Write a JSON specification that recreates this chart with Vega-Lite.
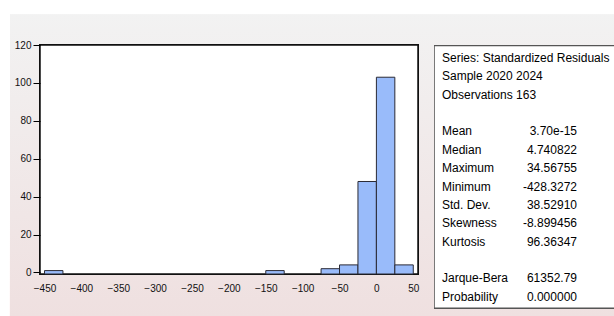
{
  "$schema": "https://vega.github.io/schema/vega-lite/v6.json",
  "background": "white",
  "padding": {"left": 9, "top": 14, "right": 0, "bottom": 0},
  "bounds": "flush",
  "spacing": 16,
  "config": {
    "view": {"stroke": null},
    "font": "Liberation Sans",
    "axis": {"labelOverlap": false, "labelFontSize": 10, "labelColor": "#111", "domain": false, "grid": false},
    "axisX": {"ticks": false, "labelPadding": 9, "labelFlush": false},
    "axisY": {"tickSize": 7, "tickColor": "#000", "labelPadding": 2, "labelBound": false}
  },
  "datasets": {
    "bins": [
      {"bin_start": -450, "bin_end": -425, "count": 1},
      {"bin_start": -150, "bin_end": -125, "count": 1},
      {"bin_start": -75, "bin_end": -50, "count": 2},
      {"bin_start": -50, "bin_end": -25, "count": 4},
      {"bin_start": -25, "bin_end": 0, "count": 48},
      {"bin_start": 0, "bin_end": 25, "count": 103},
      {"bin_start": 25, "bin_end": 50, "count": 4}
    ],
    "stats": [
      {"row": 0, "label": "Series: Standardized Residuals", "value": ""},
      {"row": 1, "label": "Sample 2020 2024", "value": ""},
      {"row": 2, "label": "Observations 163", "value": ""},
      {"row": 4, "label": "Mean", "value": "3.70e-15"},
      {"row": 5, "label": "Median", "value": "4.740822"},
      {"row": 6, "label": "Maximum", "value": "34.56755"},
      {"row": 7, "label": "Minimum", "value": "-428.3272"},
      {"row": 8, "label": "Std. Dev.", "value": "38.52910"},
      {"row": 9, "label": "Skewness", "value": "-8.899456"},
      {"row": 10, "label": "Kurtosis", "value": "96.36347"},
      {"row": 12, "label": "Jarque-Bera", "value": "61352.79"},
      {"row": 13, "label": "Probability", "value": "0.000000"}
    ]
  },
  "hconcat": [
    {
      "width": 378,
      "height": 229,
      "data": {"name": "bins"},
      "layer": [
        {
          "mark": {
            "type": "rect",
            "fill": {
              "gradient": "linear",
              "x1": 0, "y1": 0, "x2": 0, "y2": 1,
              "stops": [
                {"offset": 0, "color": "#f2f2f2"},
                {"offset": 1, "color": "#efe0e0"}
              ]
            },
            "strokeWidth": 0
          },
          "encoding": {
            "x": {"datum": -496.8, "type": "quantitative", "scale": {"domain": [-456.1, 56.4], "nice": false, "zero": false},
              "axis": {"values": [-450, -400, -350, -300, -250, -200, -150, -100, -50, 0, 50], "zindex": 2, "title": null, "labelOverlap": false}},
            "x2": {"datum": 323.5},
            "y": {"datum": 136.0, "type": "quantitative", "scale": {"domain": [-0.8, 120], "nice": false, "zero": false},
              "axis": {"values": [0, 20, 40, 60, 80, 100, 120], "zindex": 2, "title": null, "labelOverlap": false}},
            "y2": {"datum": -23.3}
          }
        },
        {
          "mark": {"type": "rect", "fill": "white", "stroke": "#111", "strokeWidth": 1.5},
          "encoding": {
            "x": {"datum": -456.1, "type": "quantitative",
              "axis": {"values": [-450, -400, -350, -300, -250, -200, -150, -100, -50, 0, 50], "zindex": 2, "title": null, "labelOverlap": false}},
            "x2": {"datum": 56.4},
            "y": {"datum": 120, "type": "quantitative",
              "axis": {"values": [0, 20, 40, 60, 80, 100, 120], "zindex": 2, "title": null, "labelOverlap": false}},
            "y2": {"datum": -0.8}
          }
        },
        {
          "mark": {"type": "rect", "fill": "#99bbfa", "stroke": "#2a2a35", "strokeWidth": 1},
          "encoding": {
            "x": {"field": "bin_start", "type": "quantitative",
              "axis": {"values": [-450, -400, -350, -300, -250, -200, -150, -100, -50, 0, 50], "zindex": 2, "title": null, "labelOverlap": false}},
            "x2": {"field": "bin_end"},
            "y": {"field": "count", "type": "quantitative",
              "axis": {"values": [0, 20, 40, 60, 80, 100, 120], "zindex": 2, "title": null, "labelOverlap": false}},
            "y2": {"datum": -0.8}
          }
        }
      ]
    },
    {
      "width": 181,
      "height": 272,
      "data": {"name": "stats"},
      "layer": [
        {
          "mark": {"type": "rect", "fill": "white", "stroke": "#555", "strokeWidth": 1.5, "clip": true},
          "encoding": {
            "x": {"datum": 0.03, "type": "quantitative", "scale": {"domain": [0, 181], "nice": false, "zero": false}, "axis": null},
            "x2": {"datum": 400},
            "y": {"datum": -0.68, "type": "quantitative", "scale": {"domain": [-0.708, 14.107], "nice": false, "zero": false, "reverse": true}, "axis": null},
            "y2": {"datum": 13.627}
          }
        },
        {
          "mark": {"type": "text", "align": "left", "baseline": "middle", "fontSize": 12, "color": "#000", "clip": true},
          "encoding": {
            "x": {"datum": 8, "type": "quantitative"},
            "y": {"field": "row", "type": "quantitative"},
            "text": {"field": "label"}
          }
        },
        {
          "mark": {"type": "text", "align": "right", "baseline": "middle", "fontSize": 12, "color": "#000", "clip": true},
          "encoding": {
            "x": {"datum": 143, "type": "quantitative"},
            "y": {"field": "row", "type": "quantitative"},
            "text": {"field": "value"}
          }
        }
      ]
    }
  ]
}
